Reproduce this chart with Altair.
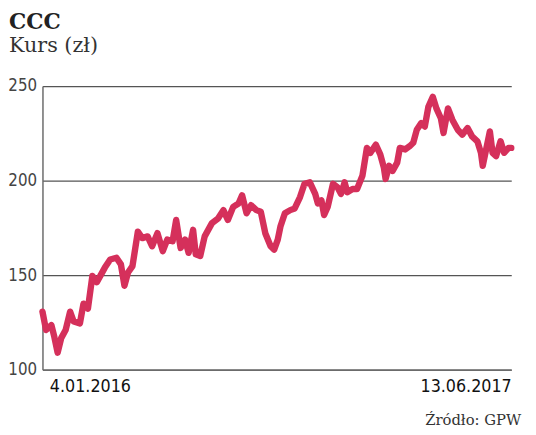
import altair as alt
import pandas as pd

# --- data ---
dates = [
    "2016-01-04", "2016-01-08", "2016-01-14", "2016-01-17", "2016-01-21", "2016-01-25", "2016-01-30",
    "2016-02-04", "2016-02-08", "2016-02-15", "2016-02-19", "2016-02-24", "2016-02-29",
    "2016-03-05", "2016-03-14", "2016-03-20", "2016-03-27",
    "2016-04-01", "2016-04-05", "2016-04-09", "2016-04-14", "2016-04-20", "2016-04-25",
    "2016-05-01", "2016-05-06", "2016-05-12", "2016-05-18", "2016-05-23", "2016-05-29",
    "2016-06-02", "2016-06-07", "2016-06-12", "2016-06-16", "2016-06-21", "2016-06-24", "2016-06-29",
    "2016-07-04", "2016-07-12", "2016-07-19", "2016-07-25", "2016-07-30",
    "2016-08-05", "2016-08-11", "2016-08-15", "2016-08-20", "2016-08-25", "2016-08-31",
    "2016-09-05", "2016-09-10", "2016-09-16", "2016-09-20", "2016-09-24", "2016-09-27",
    "2016-10-02", "2016-10-08", "2016-10-13", "2016-10-19", "2016-10-24", "2016-10-30",
    "2016-11-05", "2016-11-08", "2016-11-12", "2016-11-15", "2016-11-19", "2016-11-25", "2016-11-30",
    "2016-12-04", "2016-12-08", "2016-12-11", "2016-12-17", "2016-12-22", "2016-12-28",
    "2017-01-02", "2017-01-06", "2017-01-12", "2017-01-17", "2017-01-21", "2017-01-23", "2017-01-27", "2017-01-31",
    "2017-02-05", "2017-02-08", "2017-02-14", "2017-02-19", "2017-02-23", "2017-02-27",
    "2017-03-04", "2017-03-08", "2017-03-12", "2017-03-17", "2017-03-21", "2017-03-26", "2017-03-29",
    "2017-04-03", "2017-04-08", "2017-04-14", "2017-04-19", "2017-04-25", "2017-04-30",
    "2017-05-06", "2017-05-10", "2017-05-12", "2017-05-15", "2017-05-20", "2017-05-23", "2017-05-27",
    "2017-06-01", "2017-06-05", "2017-06-10", "2017-06-13",
]
prices = [
    130.7, 121.0, 123.6, 118.0, 109.0, 116.7, 121.0,
    130.7, 125.5, 124.5, 134.9, 132.3, 149.6,
    146.3, 154.0, 158.3, 159.2,
    155.7, 144.4, 151.4, 154.8, 173.0, 169.6,
    170.5, 165.3, 172.2, 162.7, 168.8, 167.9,
    179.2, 164.4, 168.8, 161.8, 174.0, 161.0, 160.1,
    170.5, 177.4, 180.0, 184.4, 179.2,
    186.1, 187.9, 192.2, 182.7, 187.0, 184.4,
    183.5, 172.2, 165.3, 163.5, 168.8, 175.7,
    182.7, 184.4, 185.3, 191.3, 198.3, 199.1,
    193.0, 187.9, 189.6, 181.8, 186.1, 198.3, 196.5,
    193.0, 199.1, 193.9, 195.6, 195.6, 202.6,
    217.3, 214.7, 219.0, 213.9, 207.0, 200.9, 207.8, 205.2,
    209.5, 217.3, 216.5, 218.2, 220.0, 226.9,
    230.4, 228.6, 239.0, 244.3, 238.2, 233.0, 225.2,
    238.2, 232.1, 226.9, 224.3, 227.8, 223.4,
    220.8, 214.7, 207.8, 214.7, 226.0, 214.7, 213.0,
    220.8, 214.7, 217.3, 217.3,
]
y_ticks = [100, 150, 200, 250]
title_text = "CCC"
subtitle_text = "Kurs (zł)"
source_text = "Źródło: GPW"

df = pd.DataFrame({"date": [d + "T00:00:00" for d in dates], "price": prices})

W, H = 476, 288
start = alt.DateTime(year=2016, month=1, date=4)
end = alt.DateTime(year=2017, month=6, date=13)

line = alt.Chart(df).mark_line(
    color="#d5305b", strokeWidth=6.5, strokeJoin="round", strokeCap="round"
).encode(
    x=alt.X(
        "date:T",
        scale=alt.Scale(domain=[start, end], nice=False),
        axis=alt.Axis(
            title=None, values=[start, end], format="%-d.%m.%Y", labelFlush=True,
            labelOffset={"condition": {"test": "datum.index == 0", "value": 7}, "value": 0},
            ticks=False, grid=False, domainColor="#6b6b6b", domainWidth=1.5,
            labelFont="DejaVu Sans Condensed", labelFontSize=18, labelColor="#111111",
            labelPadding=8,
        ),
    ),
    y=alt.Y(
        "price:Q",
        scale=alt.Scale(domain=[100, 250], nice=False, zero=False),
        axis=alt.Axis(
            title=None, values=y_ticks, ticks=False, grid=True, gridColor="#555555",
            gridWidth=1.3, gridOpacity=1, domainColor="#6b6b6b", domainWidth=1.5,
            labelFont="DejaVu Sans Condensed", labelFontSize=17, labelColor="#444444",
            labelPadding=6,
        ),
    ),
)

source = alt.Chart(pd.DataFrame({"t": [source_text]})).mark_text(
    align="right", baseline="alphabetic", font="DejaVu Serif", fontSize=15, color="#333333"
).encode(text="t:N", x=alt.value(W + 10), y=alt.value(H + 56))

chart = alt.layer(line, source).properties(
    width=W,
    height=H,
    autosize=alt.AutoSizeParams(type="none"),
    padding={"left": 35, "top": 76, "right": 17, "bottom": 62},
    title=alt.TitleParams(
        text=title_text, subtitle=subtitle_text, anchor="start", frame="group",
        dx=-34, font="DejaVu Serif", fontSize=22, fontWeight="bold", color="#222222",
        subtitleFont="DejaVu Serif", subtitleFontSize=21, subtitleColor="#333333",
        subtitlePadding=1, offset=21,
    ),
).configure_view(stroke=None)

chart.save("out.html", embed_options={"renderer": "svg", "actions": False})
